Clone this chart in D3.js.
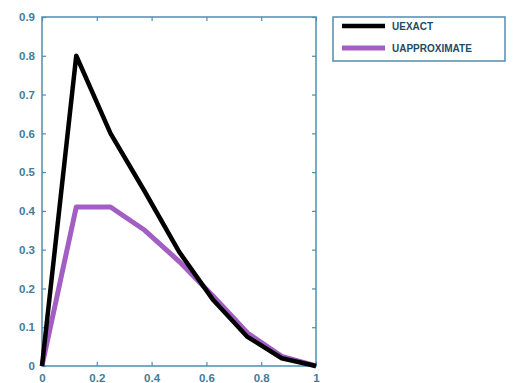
<!DOCTYPE html>
<html>
<head>
<meta charset="utf-8">
<script src="https://cdn.jsdelivr.net/npm/d3@7"></script>
<style>
  body { margin: 0; background: #fff; }
  svg { display: block; }
</style>
</head>
<body>
<svg id="chart"></svg>
<script>
const width = 514;
const height = 383;

// data
const xs = [0, 0.125, 0.25, 0.375, 0.5, 0.625, 0.75, 0.875, 1];
const uExact = [0, 0.8, 0.6, 0.45, 0.295, 0.17, 0.075, 0.02, 0];
const uApprox = [0, 0.41, 0.41, 0.35, 0.27, 0.18, 0.085, 0.025, 0];
const xTicks = [0, 0.2, 0.4, 0.6, 0.8, 1];
const yTicks = [0, 0.1, 0.2, 0.3, 0.4, 0.5, 0.6, 0.7, 0.8, 0.9];
const seriesNames = ['UEXACT', 'UAPPROXIMATE'];
const seriesColors = ['#000000', '#a25ec2'];

const axisColor = '#4d8fae';
const labelColor = '#3f7d99';

const svg = d3.select('#chart')
    .attr('width', width)
    .attr('height', height);

const x = d3.scaleLinear().domain([0, 1]).range([42, 316]);
const y = d3.scaleLinear().domain([0, 0.9]).range([366, 17]);

const fmt = d => d === 0 || d === 1 ? String(d) : d3.format('.1f')(d);

// box
svg.append('rect')
    .attr('x', x(0)).attr('y', y(0.9))
    .attr('width', x(1) - x(0)).attr('height', y(0) - y(0.9))
    .attr('fill', '#fff')
    .attr('stroke', axisColor)
    .attr('stroke-width', 1.5);

function styleAxis(g, showText) {
    g.select('.domain').remove();
    g.selectAll('line').attr('stroke', axisColor).attr('stroke-width', 1.2);
    g.selectAll('text')
        .attr('fill', labelColor)
        .style('font-family', 'Arial, "Liberation Sans", sans-serif')
        .style('font-weight', 'bold')
        .style('font-size', '11.5px')
        .style('display', showText ? null : 'none');
}

svg.append('g').attr('transform', `translate(0, ${y(0)})`)
    .call(d3.axisBottom(x).tickValues(xTicks).tickFormat(fmt).tickSizeInner(-4).tickSizeOuter(0).tickPadding(8))
    .call(g => styleAxis(g, true));
svg.append('g').attr('transform', `translate(0, ${y(0.9)})`)
    .call(d3.axisTop(x).tickValues(xTicks).tickSizeInner(-4).tickSizeOuter(0))
    .call(g => styleAxis(g, false));
svg.append('g').attr('transform', `translate(${x(0)}, 0)`)
    .call(d3.axisLeft(y).tickValues(yTicks).tickFormat(fmt).tickSizeInner(-4).tickSizeOuter(0).tickPadding(7))
    .call(g => styleAxis(g, true));
svg.append('g').attr('transform', `translate(${x(1)}, 0)`)
    .call(d3.axisRight(y).tickValues(yTicks).tickSizeInner(-4).tickSizeOuter(0))
    .call(g => styleAxis(g, false));

const line = d3.line()
    .x((d, i) => x(xs[i]))
    .y(d => y(d));

svg.append('path').datum(uApprox)
    .attr('d', line)
    .attr('fill', 'none')
    .attr('stroke', seriesColors[1])
    .attr('stroke-width', 5)
    .attr('stroke-linejoin', 'round');

svg.append('path').datum(uExact)
    .attr('d', line)
    .attr('fill', 'none')
    .attr('stroke', seriesColors[0])
    .attr('stroke-width', 4.5)
    .attr('stroke-linejoin', 'round');

// legend
const legend = svg.append('g');
legend.append('rect')
    .attr('x', 333).attr('y', 17)
    .attr('width', 172).attr('height', 44)
    .attr('fill', '#fff')
    .attr('stroke', axisColor)
    .attr('stroke-width', 1.5);

seriesNames.forEach((name, i) => {
    const ly = 26 + i * 22;
    legend.append('line')
        .attr('x1', 342).attr('x2', 385)
        .attr('y1', ly).attr('y2', ly)
        .attr('stroke', seriesColors[i])
        .attr('stroke-width', i === 0 ? 4.5 : 5);
    legend.append('text')
        .attr('x', 392).attr('y', ly + 4)
        .attr('fill', '#1f4a63')
        .style('font-family', 'Arial, "Liberation Sans", sans-serif')
        .style('font-weight', 'bold')
        .style('font-size', '10px')
        .text(name);
});
</script>
</body>
</html>
